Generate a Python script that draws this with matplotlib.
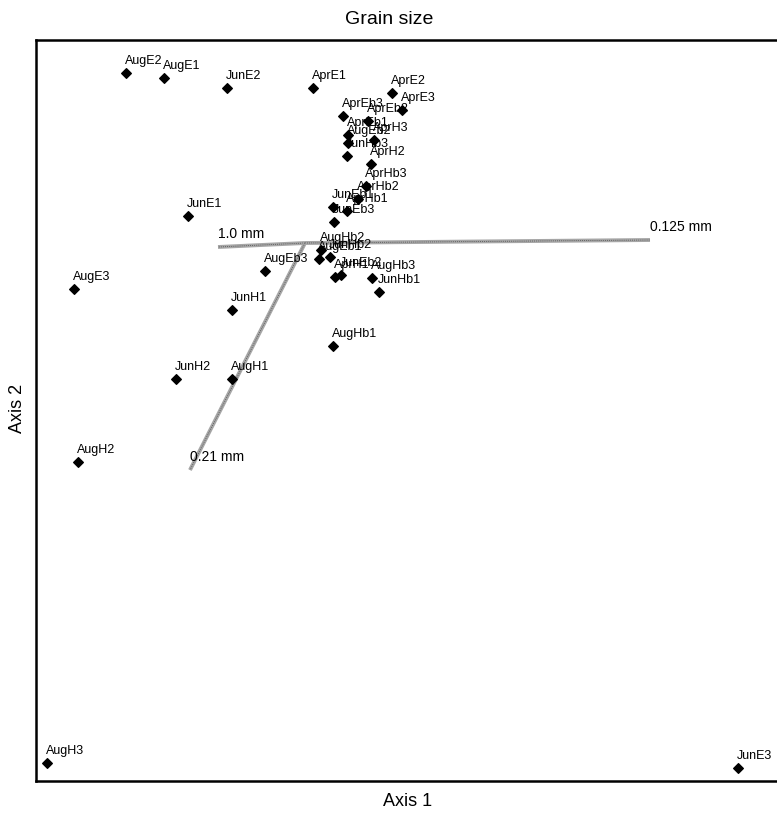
import numpy as np
import matplotlib
matplotlib.use("Agg")
import matplotlib.pyplot as plt

plt.rcParams['font.family'] = ['Liberation Sans', 'DejaVu Sans']

# sample scores on the two ordination axes
samples = ["AugE2", "AugE1", "JunE2", "AprE1", "AprE2", "AprE3", "AprEb3", "AprEb2",
           "AprEb1", "AprH3", "AugEb2", "JunHb3", "AprH2", "AprHb3", "AprHb2", "AprHb1",
           "JunEb1", "JunEb3", "JunE1", "AugHb2", "JunHb2", "AugEb1", "AprH1", "JunEb2",
           "AugHb3", "JunHb1", "AugEb3", "AugE3", "JunH1", "AugHb1", "JunH2", "AugH1",
           "AugH2", "AugH3", "JunE3"]
axis1 = [-1.79, -1.41, -0.78, 0.08, 0.87, 0.97, 0.38, 0.63,
         0.43, 0.69, 0.43, 0.42, 0.66, 0.61, 0.53, 0.42,
         0.28, 0.29, -1.17, 0.16, 0.25, 0.14, 0.30, 0.36,
         0.67, 0.74, -0.40, -2.31, -0.73, 0.28, -1.29, -0.73,
         -2.27, -2.58, 4.33]
axis2 = [1.70, 1.65, 1.55, 1.55, 1.50, 1.33, 1.27, 1.22,
         1.08, 1.03, 1.00, 0.87, 0.79, 0.57, 0.44, 0.32,
         0.36, 0.21, 0.27, -0.07, -0.14, -0.16, -0.34, -0.32,
         -0.35, -0.49, -0.28, -0.46, -0.67, -1.03, -1.36, -1.36,
         -2.19, -5.20, -5.25]

# grain size vectors (biplot)
vectors = ["1.0 mm", "0.125 mm", "0.21 mm"]
vec_x = [-0.87, 3.45, -1.15]
vec_y = [-0.04, 0.03, -2.27]

fig = plt.figure(figsize=(7.77, 8.18), dpi=100)
ax = fig.add_axes([36 / 777, 37 / 818, 746 / 777, 741 / 818])

# vectors from the centroid
for name, vx, vy in zip(vectors, vec_x, vec_y):
    ax.plot([0, vx], [0, vy], color="0.65", lw=2.8, solid_capstyle="butt", zorder=1)
    ax.plot([0, vx], [0, vy], color="0.3", lw=0.6, ls=(0, (1, 1.5)), zorder=1)
    ax.annotate(name, (vx, vy), xytext=(0, 4), textcoords="offset points",
                fontsize=10, ha="left", va="bottom", zorder=3)

ax.scatter(axis1, axis2, marker="D", s=24, color="black", zorder=2)
for name, x, y in zip(samples, axis1, axis2):
    ax.annotate(name, (x, y), xytext=(-1, 4.5), textcoords="offset points",
                fontsize=9, ha="left", va="bottom", zorder=3)

ax.set_xlim(-2.69, 4.77)
ax.set_ylim(-5.38, 2.03)
ax.set_xticks([])
ax.set_yticks([])
for sp in ax.spines.values():
    sp.set_linewidth(1.8)

fig.text(389 / 777, 1 - 19 / 818, "Grain size", ha="center", va="center", fontsize=14)
fig.text(408 / 777, 1 - 801 / 818, "Axis 1", ha="center", va="center", fontsize=13)
fig.text(17 / 777, 1 - 408 / 818, "Axis 2", ha="center", va="center", fontsize=13,
         rotation=90)

fig.savefig("out.png", dpi=100)
